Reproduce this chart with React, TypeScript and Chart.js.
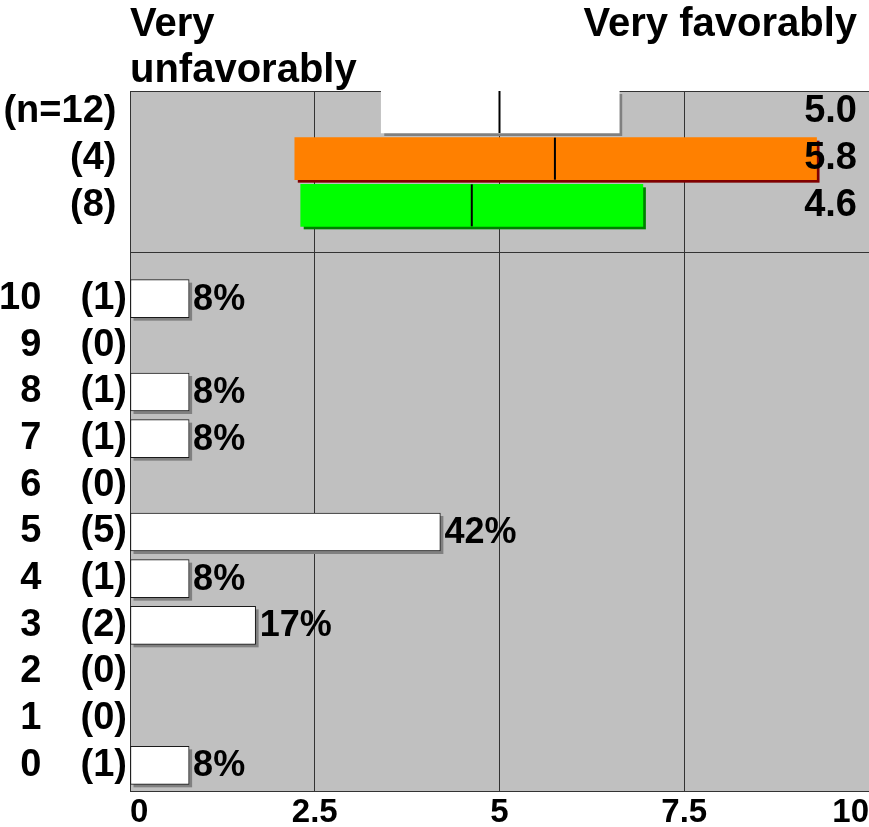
import React, { useEffect, useRef } from 'react';
import { Chart, registerables } from 'chart.js';

Chart.register(...registerables);

// ---------------- data ----------------
const scoreLabels = ['0', '1', '2', '3', '4', '5', '6', '7', '8', '9', '10'];
const scoreCounts = [1, 0, 0, 2, 1, 5, 0, 1, 1, 0, 1];
const scorePercents = [8, 0, 0, 17, 8, 42, 0, 8, 8, 0, 8];

const groupLabels = ['(n=12)', '(4)', '(8)'];
const groupLow = [3.4, 2.23, 2.31];
const groupHigh = [6.62, 9.29, 6.94];
const groupMeans = [5.0, 5.75, 4.625];
const groupMeanLabels = ['5.0', '5.8', '4.6'];
const groupColors = ['#FFFFFF', '#FF8000', '#00FF00'];
const groupShadowColors = ['#808080', '#800000', '#008000'];

const xTickValues = [0, 2.5, 5, 7.5, 10];
const headerLeft = ['Very', 'unfavorably'];
const headerRight = 'Very favorably';

// ---------------- layout helpers ----------------
const FONT = '"Liberation Sans", Arial, Helvetica, sans-serif';
const Y_MIN = -0.55;
const Y_MAX = 14.45;
const DIVIDER_SLOT = 11;
const groupSlot = (i: number) => 14 - i;
const scoreSlot = (k: number) => k;
const LINE = '#333333';

const scoreSlots = scoreLabels.map((_, k) => scoreSlot(k));
const groupSlots = groupLabels.map((_, i) => groupSlot(i));

function countLabel(v: number): string {
  const k = scoreSlots.indexOf(v);
  if (k >= 0) return `(${scoreCounts[k]})`;
  const g = groupSlots.indexOf(v);
  if (g >= 0) return groupLabels[g] + ' ';
  return '';
}

const shadowPlugin = {
  id: 'barShadow',
  beforeDatasetDraw(chart: any, args: any) {
    const ds = chart.data.datasets[args.index];
    if (!ds.shadowColor) return;
    const ctx = chart.ctx;
    ctx.save();
    ctx.fillStyle = ds.shadowColor;
    args.meta.data.forEach((el: any) => {
      const { x, y, base, height } = el.getProps(['x', 'y', 'base', 'height'], true);
      const left = Math.min(x, base);
      const right = Math.max(x, base);
      ctx.fillRect(left + 3, y - height / 2 + 3, right - left, height);
    });
    ctx.restore();
  },
};

const percentLabelPlugin = {
  id: 'percentLabels',
  afterDatasetsDraw(chart: any) {
    const ctx = chart.ctx;
    chart.data.datasets.forEach((ds: any, i: number) => {
      if (!ds.isPercent) return;
      const meta = chart.getDatasetMeta(i);
      ctx.save();
      ctx.font = `bold 36px ${FONT}`;
      ctx.fillStyle = '#000';
      ctx.textAlign = 'left';
      ctx.textBaseline = 'middle';
      meta.data.forEach((el: any, j: number) => {
        const { x, y } = el.getProps(['x', 'y'], true);
        ctx.fillText(`${ds.data[j].pct}%`, x + 4, y + 1);
      });
      ctx.restore();
    });
  },
};

const headerPlugin = {
  id: 'header',
  afterDraw(chart: any) {
    const { ctx, chartArea } = chart;
    ctx.save();
    ctx.font = `bold 40px ${FONT}`;
    ctx.fillStyle = '#000';
    ctx.textBaseline = 'alphabetic';
    ctx.textAlign = 'left';
    headerLeft.forEach((line, i) => ctx.fillText(line, chartArea.left, 36 + i * 46));
    ctx.textAlign = 'right';
    ctx.fillText(headerRight, chartArea.right - 12, 36);
    ctx.restore();
  },
};

const backgroundPlugin = {
  id: 'plotBackground',
  beforeDraw(chart: any) {
    const { ctx, chartArea } = chart;
    ctx.save();
    ctx.fillStyle = '#C0C0C0';
    ctx.fillRect(chartArea.left, chartArea.top, chartArea.right - chartArea.left, chartArea.bottom - chartArea.top);
    ctx.restore();
  },
};

export default function App() {
  const canvasRef = useRef<HTMLCanvasElement | null>(null);

  useEffect(() => {
    document.body.style.margin = '0';
    document.body.style.overflow = 'hidden';
    const canvas = canvasRef.current;
    if (!canvas) return;

    const tickFont = { family: FONT, size: 38, weight: 'bold' as const };

    const chart = new Chart(canvas, {
      type: 'bar',
      data: {
        datasets: [
          {
            type: 'scatter',
            label: 'mean',
            data: groupMeans.map((m, i) => ({ x: m, y: groupSlot(i) })),
            pointStyle: 'line',
            rotation: 90,
            radius: 21,
            borderColor: '#000000',
            borderWidth: 2,
            order: 0,
          } as any,
          ...groupLabels.map((g, i) => ({
            type: 'bar',
            label: g,
            indexAxis: 'y',
            data: [{ x: [groupLow[i], groupHigh[i]], y: groupSlot(i) }],
            backgroundColor: groupColors[i],
            borderWidth: 0,
            barThickness: 42,
            grouped: false,
            shadowColor: groupShadowColors[i],
            order: 1,
          } as any)),
          {
            type: 'bar',
            label: 'percent',
            indexAxis: 'y',
            isPercent: true,
            data: scorePercents
              .map((p, k) => ({ x: p / 10, y: scoreSlot(k), pct: p }))
              .filter((d) => d.pct > 0),
            backgroundColor: '#FFFFFF',
            borderColor: '#1A1A1A',
            borderWidth: 1,
            borderSkipped: false,
            barThickness: 38,
            grouped: false,
            shadowColor: '#808080',
            order: 1,
          } as any,
        ],
      },
      options: {
        animation: false,
        responsive: false,
        devicePixelRatio: 1,
        indexAxis: 'y',
        layout: { autoPadding: false, padding: { top: 91, left: 0, right: 0, bottom: 0 } },
        plugins: { legend: { display: false }, tooltip: { enabled: false } },
        scales: {
          x: {
            type: 'linear',
            position: 'bottom',
            min: 0,
            max: 10,
            afterBuildTicks: (scale: any) => {
              scale.ticks = xTickValues.map((v) => ({ value: v }));
            },
            afterFit: (scale: any) => {
              scale.height = 36;
              scale.paddingLeft = 0;
              scale.paddingRight = 0;
            },
            ticks: {
              align: 'inner',
              autoSkip: false,
              maxRotation: 0,
              padding: 2,
              color: '#000',
              font: { family: FONT, size: 33, weight: 'bold' },
              callback: (v: any) => String(v),
            },
            grid: {
              drawTicks: false,
              lineWidth: 1,
              color: (ctx: any) => (ctx.tick && ctx.tick.value === 10 ? 'rgba(0,0,0,0)' : LINE),
            },
            border: { display: true, color: LINE, width: 1 },
          },
          y: {
            type: 'linear',
            position: 'left',
            weight: 0,
            min: Y_MIN,
            max: Y_MAX,
            offset: false,
            afterBuildTicks: (scale: any) => {
              scale.ticks = [...scoreSlots, DIVIDER_SLOT, ...groupSlots.slice().reverse(), Y_MAX].map((v) => ({ value: v }));
            },
            afterFit: (scale: any) => {
              scale.width = 130;
            },
            ticks: {
              autoSkip: false,
              padding: 3,
              color: '#000',
              font: tickFont,
              callback: (v: any) => countLabel(Number(v)),
            },
            grid: {
              offset: false,
              drawTicks: false,
              lineWidth: 1,
              color: (ctx: any) =>
                ctx.tick && (ctx.tick.value === DIVIDER_SLOT || ctx.tick.value === Y_MAX) ? LINE : 'rgba(0,0,0,0)',
            },
            border: { display: true, color: LINE, width: 1 },
          },
          yNum: {
            type: 'linear',
            position: 'left',
            weight: 10,
            min: Y_MIN,
            max: Y_MAX,
            offset: false,
            afterBuildTicks: (scale: any) => {
              scale.ticks = scoreSlots.map((v) => ({ value: v }));
            },
            afterFit: (scale: any) => {
              scale.width = 0;
            },
            ticks: {
              mirror: true,
              crossAlign: 'far',
              autoSkip: false,
              padding: -1,
              color: '#000',
              font: tickFont,
              callback: (v: any) => {
                const k = scoreSlots.indexOf(Number(v));
                return k >= 0 ? scoreLabels[k] : '';
              },
            },
            grid: { display: false, drawTicks: false, offset: false },
            border: { display: false },
          },
          yMean: {
            type: 'linear',
            position: 'right',
            min: Y_MIN,
            max: Y_MAX,
            offset: false,
            afterBuildTicks: (scale: any) => {
              scale.ticks = groupSlots.map((v) => ({ value: v }));
            },
            afterFit: (scale: any) => {
              scale.width = 0;
            },
            ticks: {
              mirror: true,
              z: 1,
              autoSkip: false,
              padding: -12,
              color: '#000',
              font: tickFont,
              callback: (v: any) => {
                const g = groupSlots.indexOf(Number(v));
                return g >= 0 ? groupMeanLabels[g] : '';
              },
            },
            grid: { display: false, drawTicks: false, offset: false },
            border: { display: false },
          },
        },
      } as any,
      plugins: [backgroundPlugin, shadowPlugin, percentLabelPlugin, headerPlugin],
    });

    return () => chart.destroy();
  }, []);

  return (
    <div style={{ width: 869, height: 827, position: 'relative' }}>
      <canvas ref={canvasRef} width={869} height={827} style={{ display: 'block' }} />
    </div>
  );
}
